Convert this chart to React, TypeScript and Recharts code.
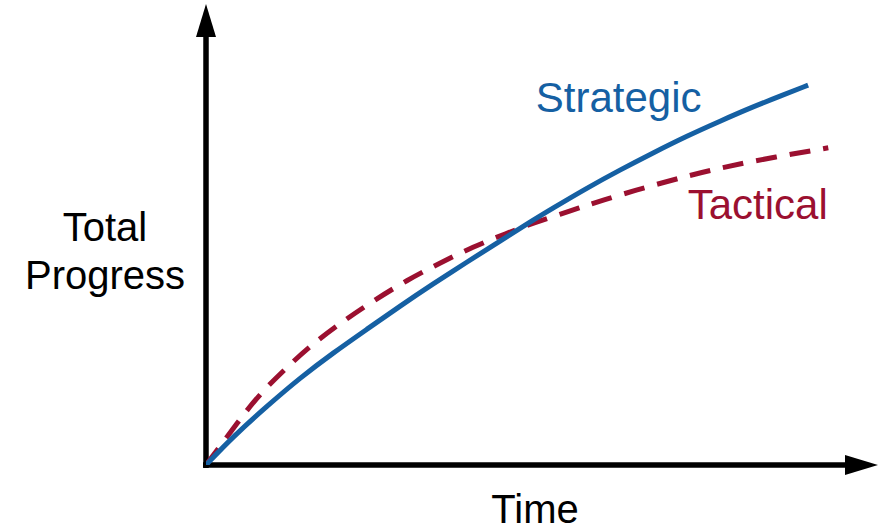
import React from 'react';
import { LineChart, Line, XAxis, YAxis, ReferenceLine, ReferenceDot } from 'recharts';

// Time (0-100) vs Total Progress (0-100), arbitrary units
const strategicT = [0, 4.0, 9.1, 14.0, 18.9, 24.0, 28.9, 33.8, 38.8, 43.8, 48.2, 51.6, 56.7, 61.6, 66.5, 71.6, 76.5, 81.4, 85.4, 89.6];
const strategicP = [0, 6.1, 12.8, 18.9, 24.3, 29.5, 34.5, 39.3, 44.0, 48.6, 52.7, 55.7, 60.1, 64.0, 67.7, 71.4, 74.6, 77.7, 80.0, 82.4];
const tacticalT = [0, 2.1, 5.1, 8.0, 12.1, 15.9, 20.4, 24.9, 29.9, 34.8, 39.7, 44.8, 48.7, 54.2, 59.1, 65.6, 71.6, 76.5, 81.4, 87.4, 92.6];
const tacticalP = [0, 4.1, 10.0, 15.4, 21.3, 26.3, 31.2, 35.6, 40.1, 43.8, 47.3, 50.3, 52.5, 55.1, 57.5, 60.3, 62.7, 64.4, 65.9, 67.5, 68.8];

const seriesNames = ['Strategic', 'Tactical'];
const axisTitles = { x: 'Time', y: ['Total', 'Progress'] };

const strategicData = strategicT.map((t, i) => ({ t, p: strategicP[i] }));
const tacticalData = tacticalT.map((t, i) => ({ t, p: tacticalP[i] }));

const BLUE = '#1560a3';
const RED = '#9b1030';
const FONT = '"Liberation Sans", Arial, sans-serif';

const HArrow = (props: any) => {
  const { x1, y1, x2 } = props;
  const head = 33;
  const half = 10;
  return (
    <g>
      <line x1={x1 - 3} y1={y1} x2={x2 - head + 1} y2={y1} stroke="#000" strokeWidth={5.5} />
      <polygon points={`${x2 - head},${y1 - half} ${x2},${y1} ${x2 - head},${y1 + half}`} fill="#000" />
    </g>
  );
};

const VArrow = (props: any) => {
  const { x1, y1, y2 } = props;
  const top = Math.min(y1, y2);
  const bottom = Math.max(y1, y2);
  const head = 33;
  const half = 10;
  return (
    <g>
      <line x1={x1} y1={bottom + 3} x2={x1} y2={top + head - 1} stroke="#000" strokeWidth={5.5} />
      <polygon points={`${x1 - half},${top + head} ${x1},${top} ${x1 + half},${top + head}`} fill="#000" />
    </g>
  );
};

const seriesLabel = (text: string, color: string) => (props: any) => {
  const vb = props.viewBox || {};
  return (
    <text x={vb.x} y={vb.y} textAnchor="middle" fill={color} fontSize={42} fontFamily={FONT}>
      {text}
    </text>
  );
};

const XTitle = (props: any) => {
  const vb = props.viewBox || {};
  return (
    <text x={vb.x + 329} y={vb.y + 58} textAnchor="middle" fill="#000" fontSize={40} fontFamily={FONT}>
      {axisTitles.x}
    </text>
  );
};

const YTitle = (props: any) => {
  const vb = props.viewBox || {};
  return (
    <text textAnchor="middle" fill="#000" fontSize={40} fontFamily={FONT}>
      <tspan x={vb.x + 105} y={vb.y + 237}>{axisTitles.y[0]}</tspan>
      <tspan x={vb.x + 105} y={vb.y + 285}>{axisTitles.y[1]}</tspan>
    </text>
  );
};

export default function App() {
  return (
    <div style={{ position: 'absolute', left: 0, top: 0, background: '#fff' }}>
      <LineChart width={879} height={529} margin={{ top: 4, right: 1, bottom: 0, left: 0 }}>
        <XAxis
          type="number"
          dataKey="t"
          domain={[0, 100]}
          height={64}
          tick={false}
          axisLine={false}
          tickLine={false}
          allowDataOverflow
          label={{ content: XTitle }}
        />
        <YAxis
          type="number"
          dataKey="p"
          domain={[0, 100]}
          width={206}
          tick={false}
          axisLine={false}
          tickLine={false}
          allowDataOverflow
          label={{ content: YTitle }}
        />
        <ReferenceLine segment={[{ x: 0, y: 0 }, { x: 100, y: 0 }]} shape={HArrow} ifOverflow="visible" />
        <ReferenceLine segment={[{ x: 0, y: 0 }, { x: 0, y: 100 }]} shape={VArrow} ifOverflow="visible" />
        <Line
          data={tacticalData}
          dataKey="p"
          type="basis"
          stroke={RED}
          strokeWidth={5}
          strokeDasharray="21 13"
          dot={false}
          activeDot={false}
          isAnimationActive={false}
        />
        <Line
          data={strategicData}
          dataKey="p"
          type="basis"
          stroke={BLUE}
          strokeWidth={5}
          dot={false}
          activeDot={false}
          isAnimationActive={false}
        />
        <ReferenceDot x={61.4} y={76.6} r={0} ifOverflow="visible" label={{ content: seriesLabel(seriesNames[0], BLUE) }} />
        <ReferenceDot x={82.1} y={53.4} r={0} ifOverflow="visible" label={{ content: seriesLabel(seriesNames[1], RED) }} />
      </LineChart>
    </div>
  );
}
